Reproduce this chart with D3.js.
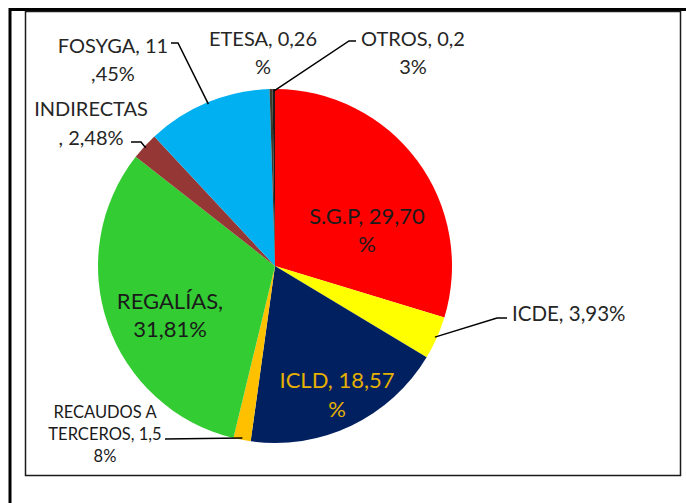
<!DOCTYPE html>
<html>
<head>
<meta charset="utf-8">
<script src="https://cdn.jsdelivr.net/npm/d3@7"></script>
<style>
  html, body { margin: 0; padding: 0; background: #fff; }
  svg { display: block; }
  text { font-family: Lato, "Open Sans", sans-serif; }
</style>
</head>
<body>
<div id="chart"></div>
<script>
// slices, clockwise from 12 o'clock
const names = ["S.G.P", "ICDE", "ICLD", "RECAUDOS A TERCEROS", "REGALÍAS", "INDIRECTAS", "FOSYGA", "ETESA", "OTROS"];
const values = [29.70, 3.93, 18.57, 1.58, 31.81, 2.48, 11.45, 0.26, 0.23];
const colors = ["#ff0000", "#ffff00", "#002060", "#ffc000", "#33cc33", "#953735", "#00b0f0", "#3d3a2c", "#1c1c1c"];
// label text as it is broken in the picture
const labelLines = [
  ["S.G.P, 29,70", "%"],
  ["ICDE, 3,93%"],
  ["ICLD, 18,57", "%"],
  ["RECAUDOS A", "TERCEROS, 1,5", "8%"],
  ["REGALÍAS,", "31,81%"],
  ["INDIRECTAS", ", 2,48%"],
  ["FOSYGA, 11", ",45%"],
  ["ETESA, 0,26", "%"],
  ["OTROS, 0,2", "3%"]
];

const W = 686, H = 503;
const cx = 275, cy = 266, R = 177;

// label placement (layout only)
const labelPos = [
  { x: 367, y: 215, dy: 28, size: 22, fill: "#1a1a1a", anchor: "middle" },
  { x: 512, y: 313, dy: 0, size: 20.5, fill: "#262626", anchor: "start", leader: [[497, 318], [507, 318]] },
  { x: 337, y: 379, dy: 29, size: 22, fill: "#e6b000", anchor: "middle" },
  { x: 105, y: 412, dy: 22, size: 16.5, fill: "#1a1a1a", anchor: "middle", leader: [[165, 439]] },
  { x: 170, y: 300, dy: 28, size: 22, fill: "#1a1a1a", anchor: "middle" },
  { x: 91, y: 108, dy: 29, size: 20, fill: "#262626", anchor: "middle", leader: [[145, 147], [141, 142], [131, 142]] },
  { x: 113, y: 45, dy: 28, size: 20, fill: "#262626", anchor: "middle", leader: [[178, 43], [171, 43]] },
  { x: 263, y: 38, dy: 28, size: 20, fill: "#262626", anchor: "middle" },
  { x: 413, y: 38, dy: 28, size: 20, fill: "#262626", anchor: "middle", leader: [[349, 41], [356, 41]] }
];

const svg = d3.select("#chart").append("svg")
  .attr("width", W)
  .attr("height", H);

// outer frame lines
svg.append("line").attr("x1", 10).attr("x2", 10).attr("y1", 8).attr("y2", H)
  .attr("stroke", "#000").attr("stroke-width", 3);
svg.append("line").attr("x1", 9).attr("x2", W).attr("y1", 9.5).attr("y2", 9.5)
  .attr("stroke", "#000").attr("stroke-width", 3);
// inner plot box
svg.append("rect")
  .attr("x", 25.5).attr("y", 11.5)
  .attr("width", 655).attr("height", 464)
  .attr("fill", "none")
  .attr("stroke", "#1a1a1a")
  .attr("stroke-width", 1.5);

const data = names.map((n, i) => ({ name: n, value: values[i], color: colors[i], lines: labelLines[i], pos: labelPos[i] }));

const pie = d3.pie().sort(null).value(d => d.value);
const arcs = pie(data);
const arc = d3.arc().innerRadius(0).outerRadius(R);

const g = svg.append("g").attr("transform", `translate(${cx},${cy})`);

g.selectAll("path.slice")
  .data(arcs)
  .enter()
  .append("path")
  .attr("class", "slice")
  .attr("d", arc)
  .attr("fill", d => d.data.color);

// leader lines: from the slice edge to the label
const lead = svg.append("g");
arcs.forEach(a => {
  const p = a.data.pos;
  if (!p.leader) return;
  const mid = (a.startAngle + a.endAngle) / 2;
  const edge = [cx + (R - 2) * Math.sin(mid), cy - (R - 2) * Math.cos(mid)];
  const pts = [edge].concat(p.leader);
  lead.append("path")
    .attr("d", d3.line()(pts))
    .attr("fill", "none")
    .attr("stroke", "#000")
    .attr("stroke-width", 1.5);
});

// labels
const lbl = svg.append("g");
data.forEach(d => {
  const p = d.pos;
  const t = lbl.append("text")
    .attr("x", p.x)
    .attr("y", p.y)
    .attr("text-anchor", p.anchor)
    .attr("font-size", p.size)
    .attr("fill", p.fill);
  d.lines.forEach((line, i) => {
    t.append("tspan")
      .attr("x", p.x)
      .attr("y", p.y + i * p.dy)
      .attr("dominant-baseline", "central")
      .text(line);
  });
});
</script>
</body>
</html>
